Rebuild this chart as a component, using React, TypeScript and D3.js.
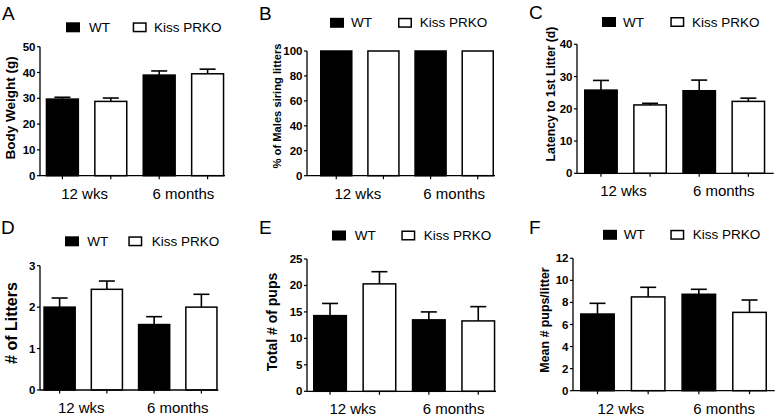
import { scaleBand, scaleLinear } from "d3";

const groups = ["12 wks", "6 months"];
const seriesNames = ["WT", "Kiss PRKO"];
// bar order: WT 12 wks, KO 12 wks, WT 6 months, KO 6 months
const barKeys = ["wt-12", "ko-12", "wt-6", "ko-6"];

const bodyWeight = [29.7, 28.8, 39.0, 39.5];
const bodyWeightSem = [0.7, 1.3, 1.6, 1.8];
const bodyWeightTicks = [0, 10, 20, 30, 40, 50];

const siring = [100, 100, 100, 100];
const siringTicks = [0, 20, 40, 60, 80, 100];

const latency = [25.8, 21.2, 25.6, 22.3];
const latencySem = [3.0, 0.5, 3.3, 1.0];
const latencyTicks = [0, 10, 20, 30, 40];

const litters = [2.0, 2.43, 1.58, 2.0];
const littersSem = [0.22, 0.2, 0.19, 0.31];
const littersTicks = [0, 1, 2, 3];

const totalPups = [14.3, 20.3, 13.5, 13.3];
const totalPupsSem = [2.3, 2.3, 1.5, 2.7];
const totalPupsTicks = [0, 5, 10, 15, 20, 25];

const meanPups = [6.95, 8.5, 8.74, 7.1];
const meanPupsSem = [0.97, 0.87, 0.45, 1.12];
const meanPupsTicks = [0, 2, 4, 6, 8, 10, 12];

const font = "'Liberation Sans', Arial, Helvetica, sans-serif";

const panels = [
  {
    letter: "A", letterX: 2, letterY: 20,
    label: "Body Weight (g)", labelSize: 13.5, labelX: 10, labelY: 108,
    values: bodyWeight, sem: bodyWeightSem, ticks: bodyWeightTicks,
    axisX: 40, yTop: 46.7, y0: 175.7, barLeft: 45.7, barRight: 224.3, axisEnd: 225,
    legend: [66, 89, 132.7, 154], legendY: 27.3,
  },
  {
    letter: "B", letterX: 259, letterY: 19.5,
    label: "% of Males siring litters", labelSize: 11.2, labelX: 277, labelY: 106,
    values: siring, sem: null, ticks: siringTicks,
    axisX: 307, yTop: 51, y0: 175.7, barLeft: 320, barRight: 494, axisEnd: 495,
    legend: [330, 351, 398, 419.7], legendY: 22.8,
  },
  {
    letter: "C", letterX: 529, letterY: 18.5,
    label: "Latency to 1st Litter (d)", labelSize: 12.2, labelX: 551, labelY: 94,
    values: latency, sem: latencySem, ticks: latencyTicks,
    axisX: 577, yTop: 44.3, y0: 173.3, barLeft: 584, barRight: 765.3, axisEnd: 773.7,
    legend: [602, 623, 670.3, 692], legendY: 22,
  },
  {
    letter: "D", letterX: 1, letterY: 234,
    label: "# of Litters", labelSize: 16, labelX: 11, labelY: 323,
    values: litters, sem: littersSem, ticks: littersTicks,
    axisX: 40, yTop: 265.7, y0: 390, barLeft: 43.3, barRight: 217.7, axisEnd: 218.3,
    legend: [65, 87.3, 128.3, 151.7], legendY: 241.3,
  },
  {
    letter: "E", letterX: 259, letterY: 234,
    label: "Total # of pups", labelSize: 14, labelX: 272, labelY: 322,
    values: totalPups, sem: totalPupsSem, ticks: totalPupsTicks,
    axisX: 307, yTop: 259, y0: 391.3, barLeft: 313, barRight: 495.3, axisEnd: 496,
    legend: [332, 354.7, 401.3, 423.7], legendY: 235.5,
  },
  {
    letter: "F", letterX: 529, letterY: 234,
    label: "Mean # pups/litter", labelSize: 12.4, labelX: 544.5, labelY: 320,
    values: meanPups, sem: meanPupsSem, ticks: meanPupsTicks,
    axisX: 573, yTop: 258.3, y0: 390.7, barLeft: 580, barRight: 767, axisEnd: 774.7,
    legend: [603, 623.7, 670.3, 692.7], legendY: 234.8,
  },
];

const Panel = ({ p }) => {
  const yMax = p.ticks[p.ticks.length - 1];
  const yScale = scaleLinear().domain([0, yMax]).range([p.y0, p.yTop]);
  const xScale = scaleBand()
    .domain(barKeys)
    .range([p.barLeft, p.barRight])
    .paddingInner(0.31)
    .paddingOuter(0);
  const bw = xScale.bandwidth();
  const center = (i) => xScale(barKeys[i]) + bw / 2;

  return (
    <g>
      <text x={p.letterX} y={p.letterY} fontSize={19} fontFamily={font}>
        {p.letter}
      </text>

      {/* legend */}
      <rect x={p.legend[0]} y={p.legendY - 5} width={14} height={10} fill="black" />
      <text x={p.legend[1]} y={p.legendY} dominantBaseline="central" fontSize={13.5} fontFamily={font}>
        {seriesNames[0]}
      </text>
      <rect x={p.legend[2] + 0.75} y={p.legendY - 4.25} width={12.5} height={8.5} fill="white" stroke="black" strokeWidth={1.5} />
      <text x={p.legend[3]} y={p.legendY} dominantBaseline="central" fontSize={13.5} fontFamily={font}>
        {seriesNames[1]}
      </text>

      {/* bars */}
      {p.values.map((v, i) => (
        <rect
          key={i}
          x={xScale(barKeys[i]) + 0.75}
          y={yScale(v)}
          width={bw - 1.5}
          height={p.y0 - yScale(v)}
          fill={i % 2 === 0 ? "black" : "white"}
          stroke="black"
          strokeWidth={1.5}
        />
      ))}

      {/* error bars */}
      {p.sem &&
        p.values.map((v, i) => {
          const cx = center(i);
          const top = yScale(v + p.sem[i]);
          return (
            <g key={i} stroke="black" strokeWidth={1.6}>
              <line x1={cx} x2={cx} y1={yScale(v)} y2={top} />
              <line x1={cx - 8} x2={cx + 8} y1={top} y2={top} />
            </g>
          );
        })}

      {/* y axis */}
      <line x1={p.axisX} x2={p.axisX} y1={p.yTop} y2={p.y0} stroke="black" strokeWidth={1.3} />
      {p.ticks.map((t) => (
        <g key={t}>
          <line x1={p.axisX - 3} x2={p.axisX} y1={yScale(t)} y2={yScale(t)} stroke="black" strokeWidth={1.2} />
          <text
            x={p.axisX - 4.5}
            y={yScale(t)}
            textAnchor="end"
            dominantBaseline="central"
            fontSize={11.5}
            fontWeight="bold"
            fontFamily={font}
          >
            {t}
          </text>
        </g>
      ))}
      <text
        transform={`translate(${p.labelX},${p.labelY}) rotate(-90)`}
        textAnchor="middle"
        dominantBaseline="central"
        fontSize={p.labelSize}
        fontWeight="bold"
        fontFamily={font}
      >
        {p.label}
      </text>

      {/* x axis */}
      <line x1={p.axisX} x2={p.axisEnd} y1={p.y0} y2={p.y0} stroke="black" strokeWidth={1.3} />
      {barKeys.map((k, i) => (
        <line key={k} x1={center(i)} x2={center(i)} y1={p.y0} y2={p.y0 + 3.5} stroke="black" strokeWidth={1.2} />
      ))}
      {groups.map((g, gi) => (
        <text
          key={g}
          x={(center(gi * 2) + center(gi * 2 + 1)) / 2 - (gi === 0 ? 2 : 0)}
          y={p.y0 + 23}
          textAnchor="middle"
          fontSize={15}
          fontFamily={font}
        >
          {g}
        </text>
      ))}
    </g>
  );
};

const App = () => {
  return (
    <svg
      width={777}
      height={418}
      style={{ position: "absolute", left: 0, top: 0, background: "white" }}
    >
      <rect width={777} height={418} fill="white" />
      {panels.map((p) => (
        <Panel key={p.letter} p={p} />
      ))}
    </svg>
  );
};

export default App;
